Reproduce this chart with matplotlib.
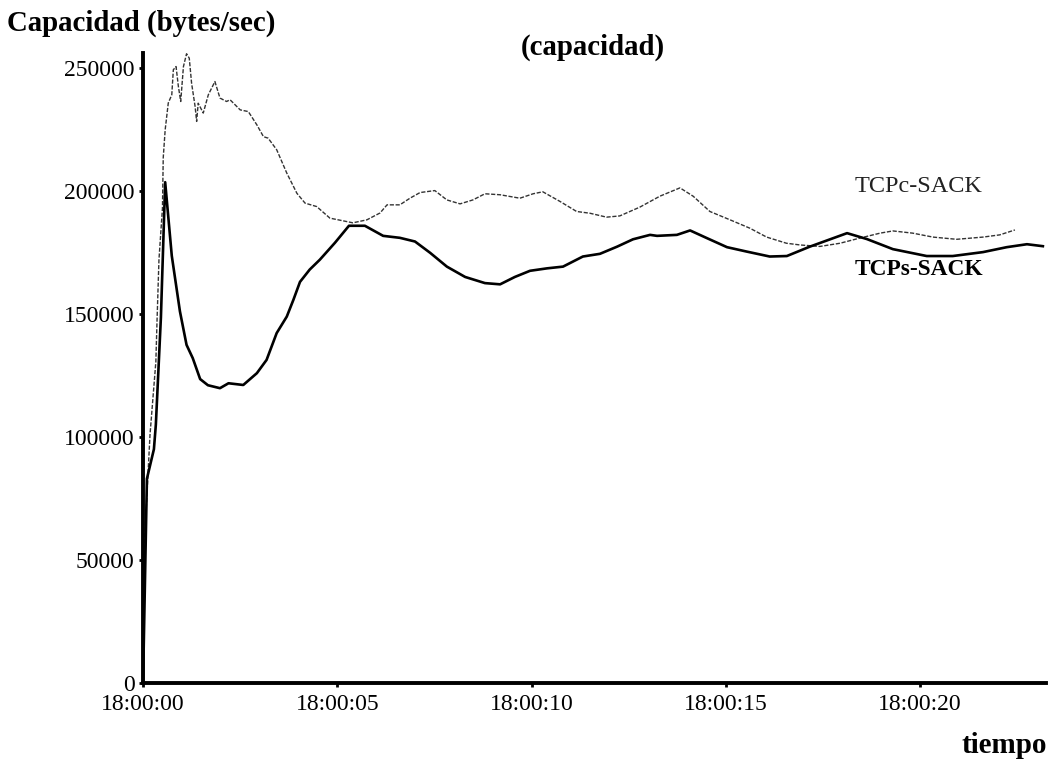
import matplotlib
matplotlib.use("Agg")
import matplotlib.pyplot as plt
from matplotlib.ticker import FuncFormatter, FixedLocator

plt.rcParams["font.family"] = ["Liberation Serif", "DejaVu Serif"]

# seconds after 18:00:00 and measured capacity (bytes/sec)
t_sin = [0.00, 0.10, 0.28, 0.33, 0.46, 0.57, 0.74, 0.95, 1.12, 1.28, 1.47, 1.67,
         1.98, 2.20, 2.58, 2.93, 3.18, 3.44, 3.70, 3.87, 4.04, 4.29, 4.55, 4.94,
         5.30, 5.71, 6.18, 6.61, 7.00, 7.39, 7.82, 8.29, 8.80, 9.19, 9.57, 9.96,
         10.40, 10.81, 11.32, 11.76, 12.20, 12.61, 13.05, 13.23, 13.74, 14.08,
         14.51, 15.03, 15.54, 16.13, 16.57, 17.16, 18.12, 18.63, 19.30, 20.17,
         20.84, 21.62, 22.23, 22.75, 23.16]
cap_sin = [0, 83000, 95000, 105000, 148500, 203500, 173600, 151000, 137400, 132000,
           123500, 121000, 119800, 121800, 121100, 125900, 131300, 142200, 148900,
           155700, 163000, 168000, 172000, 178900, 185800, 185800, 181700, 180900,
           179400, 174800, 169200, 165000, 162500, 162000, 165000, 167500, 168500,
           169200, 173300, 174400, 177300, 180300, 182100, 181700, 182100, 183900,
           180800, 177100, 175300, 173300, 173500, 177300, 182800, 180400, 176300,
           173500, 173500, 175100, 177100, 178300, 177500]

t_con = [0.00, 0.05, 0.18, 0.33, 0.36, 0.41, 0.50, 0.52, 0.57, 0.65, 0.74, 0.78,
         0.85, 0.91, 0.97, 1.04, 1.12, 1.19, 1.25, 1.34, 1.38, 1.42, 1.55, 1.68,
         1.85, 1.98, 2.15, 2.24, 2.50, 2.71, 2.93, 3.10, 3.22, 3.44, 3.70, 3.96,
         4.17, 4.47, 4.81, 5.40, 5.76, 6.10, 6.28, 6.61, 6.87, 7.13, 7.51, 7.82,
         8.16, 8.49, 8.80, 9.19, 9.70, 10.04, 10.29, 10.73, 11.16, 11.50, 11.93,
         12.27, 12.79, 13.30, 13.82, 14.16, 14.59, 15.11, 15.62, 16.05, 16.56,
         16.91, 17.42, 17.94, 18.45, 18.97, 19.30, 19.81, 20.33, 20.94, 21.62,
         22.05, 22.44]
cap_con = [0, 60800, 101000, 130500, 147000, 172000, 193000, 213400, 224800, 235700,
           239000, 249200, 250500, 242400, 236300, 250500, 255700, 253900, 243700,
           234300, 228200, 235600, 231600, 239000, 244400, 237700, 236300, 237000,
           232900, 232200, 226800, 222000, 221400, 216700, 207200, 199000, 195000,
           193600, 188900, 187000, 188200, 191000, 194300, 194300, 197000, 199300,
           200100, 196300, 194700, 196300, 198800, 198400, 197000, 198800, 199600,
           195700, 191600, 190900, 189300, 189800, 193400, 197800, 201200, 197800,
           191600, 188200, 184800, 181200, 178700, 178000, 177400, 178700, 180800,
           182800, 183700, 182800, 181200, 180300, 181200, 182100, 184100]

y_ticks = [0, 50000, 100000, 150000, 200000, 250000]
x_ticks = [0, 5, 10, 15, 20]

fig = plt.figure(figsize=(10.54, 7.65), dpi=100)
ax = fig.add_axes([0.1357, 0.1072, 0.8567, 0.8235])

ax.plot(t_con, cap_con, color="#333333", lw=1.0, ls=(0, (3, 1.2)))
ax.plot(t_sin, cap_sin, color="black", lw=1.9)

ax.set_xlim(0, 23.24)
ax.set_ylim(0, 256000)
ax.xaxis.set_major_locator(FixedLocator(x_ticks))
ax.yaxis.set_major_locator(FixedLocator(y_ticks))
ax.xaxis.set_major_formatter(FuncFormatter(lambda v, p: f"18:00:{int(v):02d}"))
ax.yaxis.set_major_formatter(FuncFormatter(lambda v, p: f"{int(v)}"))

for s in ("top", "right"):
    ax.spines[s].set_visible(False)
ax.spines["left"].set_linewidth(2.8)
ax.spines["bottom"].set_linewidth(2.8)
ax.tick_params(axis="both", length=3, width=2, labelsize=17)
ax.tick_params(axis="x", pad=5)
ax.tick_params(axis="y", pad=3)

fig.text(0.007, 0.970, "Capacidad (bytes/sec)", fontsize=20.8, fontweight="bold",
         ha="left", va="center")
fig.text(0.5626, 0.9386, "(capacidad)", fontsize=20.8, fontweight="bold",
         ha="center", va="center")
fig.text(0.993, 0.026, "tiempo", fontsize=21, fontweight="bold",
         ha="right", va="center")

ax.text(0.788, 0.788, "TCPc-SACK", transform=ax.transAxes, fontsize=17.5,
        ha="left", va="center", color="#222222")
ax.text(0.788, 0.656, "TCPs-SACK", transform=ax.transAxes, fontsize=16.8,
        fontweight="bold", ha="left", va="center")

fig.savefig("out.png", dpi=100, facecolor="white")
